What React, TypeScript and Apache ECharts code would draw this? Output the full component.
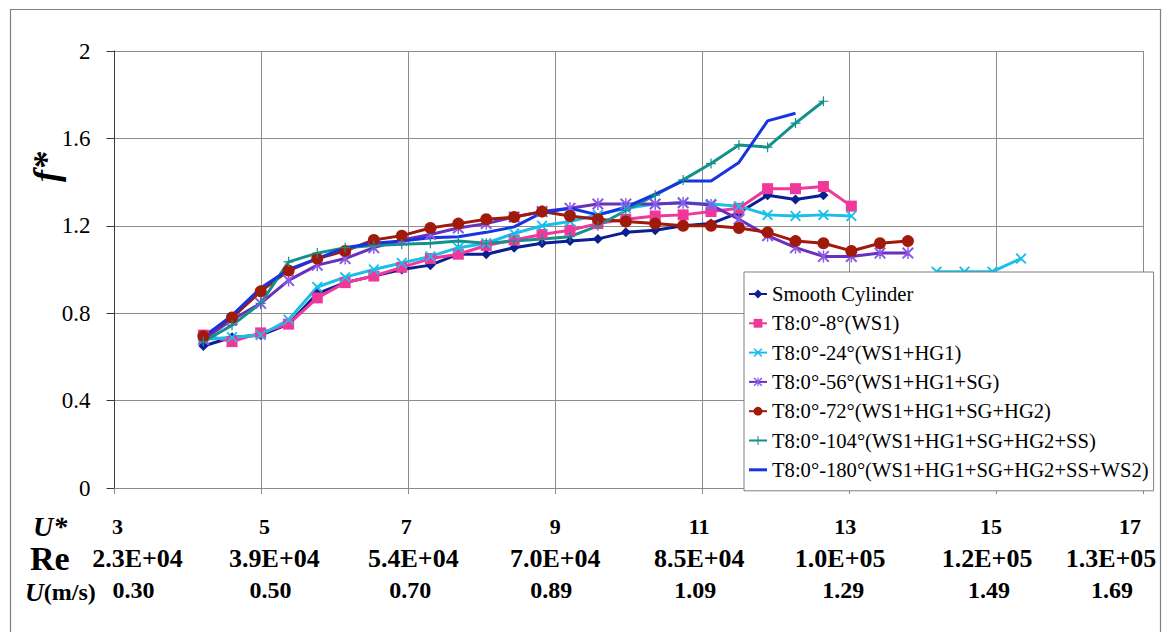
import React, { useEffect, useRef } from 'react';
import * as echarts from 'echarts';

// Reduced velocity U* (shared sample positions)
const uStar = [4.21, 4.60, 4.99, 5.37, 5.76, 6.14, 6.53, 6.91, 7.30, 7.68, 8.06, 8.44, 8.82, 9.20, 9.58, 9.96, 10.36, 10.74, 11.12, 11.50, 11.89, 12.27, 12.65, 13.03, 13.42, 13.80, 14.19, 14.57, 14.95, 15.34];

// f* values per series (null = no measurement)
const smoothCylinder = [0.65, 0.69, 0.70, 0.75, 0.89, 0.94, 0.97, 1.00, 1.02, 1.07, 1.07, 1.10, 1.12, 1.13, 1.14, 1.17, 1.18, 1.20, 1.21, 1.26, 1.34, 1.32, 1.34];
const ws1 = [0.70, 0.67, 0.71, 0.75, 0.87, 0.94, 0.97, 1.01, 1.05, 1.07, 1.11, 1.135, 1.16, 1.18, 1.21, 1.23, 1.245, 1.25, 1.265, 1.28, 1.37, 1.37, 1.38, 1.29];
const ws1hg1 = [0.68, 0.69, 0.70, 0.77, 0.92, 0.965, 1.00, 1.03, 1.06, 1.10, 1.12, 1.165, 1.20, 1.22, 1.25, 1.28, 1.30, 1.305, 1.30, 1.29, 1.25, 1.245, 1.25, 1.245, null, null, 0.99, 0.99, 0.99, 1.05];
const ws1hg1sg = [0.68, 0.77, 0.845, 0.95, 1.02, 1.05, 1.10, 1.135, 1.16, 1.19, 1.21, 1.24, 1.265, 1.28, 1.30, 1.30, 1.30, 1.305, 1.295, 1.23, 1.155, 1.10, 1.06, 1.06, 1.075, 1.075];
const ws1hg1sghg2 = [0.695, 0.78, 0.90, 0.995, 1.05, 1.085, 1.135, 1.155, 1.19, 1.21, 1.23, 1.24, 1.265, 1.245, 1.23, 1.22, 1.21, 1.20, 1.20, 1.19, 1.17, 1.13, 1.12, 1.085, 1.12, 1.13];
const ws1hg1sghg2ss = [0.67, 0.745, 0.845, 1.035, 1.075, 1.10, 1.11, 1.115, 1.12, 1.13, 1.12, 1.13, 1.14, 1.15, 1.20, 1.27, 1.34, 1.41, 1.485, 1.57, 1.56, 1.67, 1.77];
const ws1hg1sghg2ssws2 = [0.69, 0.79, 0.915, 1.00, 1.05, 1.10, 1.12, 1.13, 1.145, 1.15, 1.17, 1.195, 1.26, 1.28, 1.25, 1.285, 1.345, 1.405, 1.405, 1.49, 1.68, 1.715];

const seriesNames = [
  'Smooth Cylinder',
  'T8:0°-8°(WS1)',
  'T8:0°-24°(WS1+HG1)',
  'T8:0°-56°(WS1+HG1+SG)',
  'T8:0°-72°(WS1+HG1+SG+HG2)',
  'T8:0°-104°(WS1+HG1+SG+HG2+SS)',
  'T8:0°-180°(WS1+HG1+SG+HG2+SS+WS2)',
];

// Tick label rows under the x axis
const uStarTicks = ['3', '5', '7', '9', '11', '13', '15', '17'];
const reTicks = ['2.3E+04', '3.9E+04', '5.4E+04', '7.0E+04', '8.5E+04', '1.0E+05', '1.2E+05', '1.3E+05'];
const uTicks = ['0.30', '0.50', '0.70', '0.89', '1.09', '1.29', '1.49', '1.69'];

const FONT = "'Liberation Serif', 'Times New Roman', serif";

const X_PATH = 'path://M0,1.2 L1.2,0 L5,3.8 L8.8,0 L10,1.2 L6.2,5 L10,8.8 L8.8,10 L5,6.2 L1.2,10 L0,8.8 L3.8,5 Z';
const STAR_PATH = 'path://M0,1.2 L1.2,0 L5,3.8 L8.8,0 L10,1.2 L6.2,5 L10,8.8 L8.8,10 L5,6.2 L1.2,10 L0,8.8 L3.8,5 Z M4.4,0 L5.6,0 L5.6,10 L4.4,10 Z';
const PLUS_PATH = 'path://M4.4,0 L5.6,0 L5.6,4.4 L10,4.4 L10,5.6 L5.6,5.6 L5.6,10 L4.4,10 L4.4,5.6 L0,5.6 L0,4.4 L4.4,4.4 Z';
const LINE_ICON = 'path://M0,0 M18,11 M0,4 L18,4 L18,7 L0,7 Z';

function toPairs(vals: (number | null)[]) {
  return vals.map((v, i) => [uStar[i], v === null ? '-' : v]);
}

function makeRich(offsets: number[], size: number) {
  const rich: Record<string, any> = {};
  offsets.forEach((d, i) => {
    rich['p' + i] = {
      fontFamily: FONT,
      fontSize: size,
      fontWeight: 'bold',
      color: '#000',
      lineHeight: size,
      padding: d >= 0 ? [0, 0, 0, 2 * d] : [0, -2 * d, 0, 0],
    };
  });
  return rich;
}

function rowAxis(labels: string[], offsets: number[], size: number, margin: number, main: boolean) {
  return {
    type: 'value',
    gridIndex: 0,
    position: 'bottom',
    min: 3,
    max: 17,
    interval: 2,
    axisLine: { show: main, onZero: false, lineStyle: { color: '#8a8a8a', width: 1 } },
    axisTick: { show: main, inside: false, length: 6, lineStyle: { color: '#8a8a8a' } },
    splitLine: { show: main, lineStyle: { color: '#8c8c8c', width: 1 } },
    axisLabel: {
      show: true,
      margin,
      showMinLabel: true,
      showMaxLabel: true,
      hideOverlap: false,
      formatter: (value: number) => {
        const i = Math.round((value - 3) / 2);
        return '{p' + i + '|' + labels[i] + '}';
      },
      rich: makeRich(offsets, size),
    },
  };
}

export default function App() {
  const ref = useRef<HTMLDivElement>(null);
  useEffect(() => {
    if (!ref.current) return;
    const chart = echarts.init(ref.current, undefined, { renderer: 'svg' });
    const lw = 3;
    const option: any = {
      animation: false,
      backgroundColor: '#fff',
      grid: {
        left: 114.5,
        top: 51,
        right: 25,
        bottom: 144,
        containLabel: false,
        outerBoundsMode: 'none',
      },
      xAxis: [
        rowAxis(uStarTicks, [3, 3, -2, 0, -3, -4, -5, -13], 22, 27, true),
        rowAxis(reTicks, [23, 13, 5, 0, -3, -9, -9, -32], 26, 57, false),
        rowAxis(uTicks, [19, 9, 2, -4, -7, -6, -7, -31], 24, 90, false),
      ],
      yAxis: {
        type: 'value',
        min: 0,
        max: 2,
        interval: 0.4,
        axisLine: { show: true, lineStyle: { color: '#3a3a3a', width: 1 } },
        axisTick: { show: true, inside: false, length: 8, lineStyle: { color: '#3a3a3a' } },
        splitLine: { show: true, lineStyle: { color: '#8c8c8c', width: 1 } },
        axisLabel: {
          margin: 24,
          fontFamily: FONT,
          fontSize: 23,
          color: '#000',
          formatter: (v: number) => String(Math.round(v * 10) / 10),
        },
      },
      legend: {
        orient: 'vertical',
        left: 744,
        top: 272,
        padding: [11, 5, 10, 4],
        itemGap: 7.3,
        itemWidth: 18,
        itemHeight: 11,
        selectedMode: false,
        backgroundColor: '#fff',
        borderColor: '#808080',
        borderWidth: 1,
        borderRadius: 0,
        textStyle: { fontFamily: FONT, fontSize: 20.6, color: '#000', lineHeight: 22 },
        data: seriesNames.map((n, i) => (i === 6 ? { name: n, icon: LINE_ICON } : { name: n })),
      },
      graphic: [
        {
          type: 'rect',
          silent: true,
          z: -10,
          shape: { x: 10.5, y: 9.5, width: 1150, height: 660 },
          style: { fill: 'none', stroke: '#808080', lineWidth: 1.2 },
        },
        {
          type: 'text',
          x: 46,
          y: 167,
          rotation: Math.PI / 2,
          style: {
            text: 'f*',
            fontFamily: FONT,
            fontSize: 36,
            fontWeight: 'bold',
            fontStyle: 'italic',
            fill: '#000',
            align: 'center',
            verticalAlign: 'middle',
          },
        },
        {
          type: 'text',
          x: 33,
          y: 526,
          style: {
            text: 'U*',
            fontFamily: FONT,
            fontSize: 28,
            fontWeight: 'bold',
            fontStyle: 'italic',
            fill: '#000',
            align: 'left',
            verticalAlign: 'middle',
          },
        },
        {
          type: 'text',
          x: 30,
          y: 558,
          style: {
            text: 'Re',
            fontFamily: FONT,
            fontSize: 34,
            fontWeight: 'bold',
            fill: '#000',
            align: 'left',
            verticalAlign: 'middle',
          },
        },
        {
          type: 'text',
          x: 25,
          y: 592,
          style: {
            text: '{i|U}{b|(m/s)}',
            align: 'left',
            verticalAlign: 'middle',
            rich: {
              i: { fontFamily: FONT, fontSize: 26, fontWeight: 'bold', fontStyle: 'italic', fill: '#000' },
              b: { fontFamily: FONT, fontSize: 24, fontWeight: 'bold', fill: '#000' },
            },
          },
        },
      ],
      series: [
        {
          name: seriesNames[0],
          type: 'line',
          data: toPairs(smoothCylinder),
          symbol: 'diamond',
          symbolSize: 10,
          lineStyle: { width: lw, color: '#0b1f92' },
          itemStyle: { color: '#0b1f92' },
        },
        {
          name: seriesNames[1],
          type: 'line',
          data: toPairs(ws1),
          symbol: 'rect',
          symbolSize: 11,
          lineStyle: { width: lw, color: '#f0389a' },
          itemStyle: { color: '#f0389a' },
        },
        {
          name: seriesNames[2],
          type: 'line',
          data: toPairs(ws1hg1),
          symbol: X_PATH,
          symbolSize: 11,
          lineStyle: { width: lw, color: '#19bfe8' },
          itemStyle: { color: '#19bfe8' },
        },
        {
          name: seriesNames[3],
          type: 'line',
          data: toPairs(ws1hg1sg),
          symbol: STAR_PATH,
          symbolSize: 12,
          lineStyle: { width: lw, color: '#6a2fbd' },
          itemStyle: { color: '#8c5be6' },
        },
        {
          name: seriesNames[4],
          type: 'line',
          data: toPairs(ws1hg1sghg2),
          symbol: 'circle',
          symbolSize: 12,
          lineStyle: { width: lw, color: '#a01a0c' },
          itemStyle: { color: '#a01a0c' },
        },
        {
          name: seriesNames[5],
          type: 'line',
          data: toPairs(ws1hg1sghg2ss),
          symbol: PLUS_PATH,
          symbolSize: 10,
          lineStyle: { width: lw, color: '#14918b' },
          itemStyle: { color: '#14918b' },
        },
        {
          name: seriesNames[6],
          type: 'line',
          data: toPairs(ws1hg1sghg2ssws2),
          symbol: 'none',
          lineStyle: { width: lw, color: '#1634e2' },
          itemStyle: { color: '#1634e2' },
        },
      ],
    };
    chart.setOption(option);
    return () => chart.dispose();
  }, []);
  return (
    <div
      ref={ref}
      style={{ position: 'absolute', left: 0, top: 0, width: 1168, height: 632, background: '#fff' }}
    />
  );
}
